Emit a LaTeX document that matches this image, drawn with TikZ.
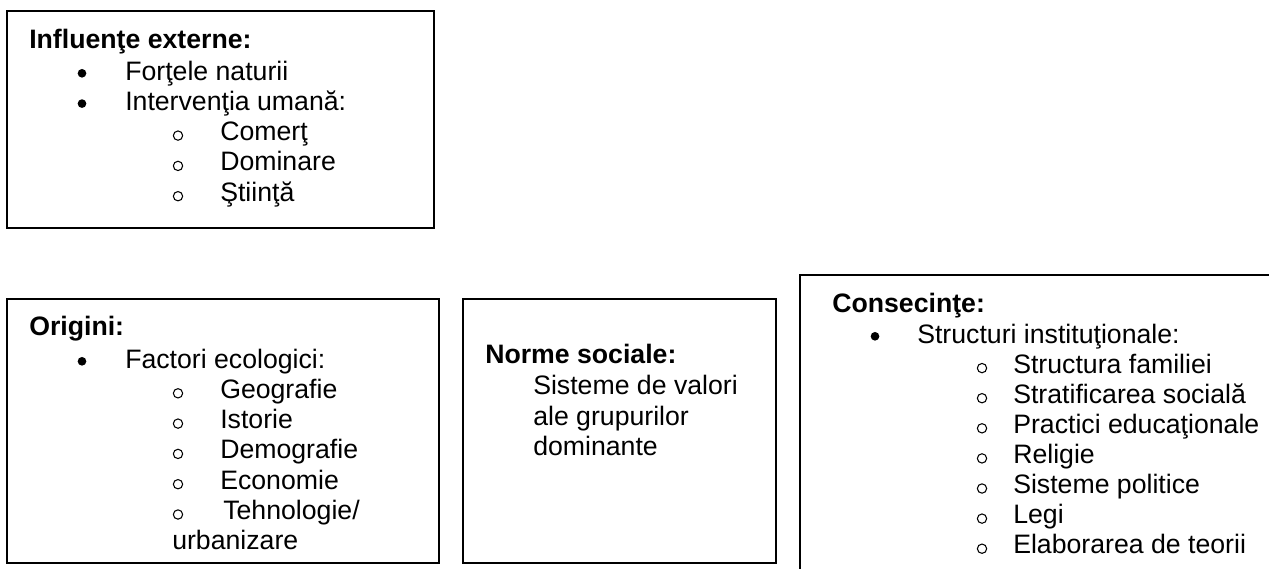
\documentclass[tikz,border=0pt]{standalone}
\usepackage{fontspec}
\setmainfont{Liberation Sans}
\usepackage{tikz}
\usetikzlibrary{fit}

\begin{document}
\begin{tikzpicture}[x=0.75pt,y=-0.75pt]
        \tikzstyle{frame} = [draw,line width=1.4pt,inner sep=0pt]
        \tikzstyle{txt} = [anchor=base west,inner sep=0pt,font=\fontsize{20}{24}\selectfont]
        \tikzstyle{head} = [txt,font=\fontsize{20}{24}\selectfont\bfseries]
        \tikzstyle{dot} = [circle,fill=black,inner sep=0pt,minimum size=6.5pt]
        \tikzstyle{ring} = [circle,draw,line width=0.8pt,inner sep=0pt,minimum size=7pt]
        \useasboundingbox (0,0) rectangle (1269,568);
        \clip (0,0) rectangle (1269,568);
        % the four frames
        \node[frame,fit={(7,11) (434,228)}] (ext) {};
        \node[frame,fit={(7,299) (439,563)}] (ori) {};
        \node[frame,fit={(463,299) (776,563)}] (norm) {};
        \node[frame,fit={(800,275) (1300,600)}] (cons) {};
        % influente externe
        \node[head] (ext-h) at (29,48) {Influenţe externe:};
        \foreach \t [count=\i] in {Forţele naturii, Intervenţia umană:}{
          \node[txt] (ext-\i) at (125,{80+30.3*(\i-1)}) {\t};
          \node[dot] (ext-b\i) at (82,{73.3+30.3*(\i-1)}) {};
        }
        \foreach \t [count=\i] in {Comerţ, Dominare, Ştiinţă}{
          \node[txt] (ext-s\i) at (220,{110.3+30.3*\i}) {\t};
          \node[ring] (ext-r\i) at (178,{105.3+30.3*\i}) {};
        }
        % origini
        \node[head] (ori-h) at (29,335) {Origini:};
        \node[dot] (ori-b) at (82,361.3) {};
        \node[txt] (ori-1) at (125,368) {Factori ecologici:};
        \foreach \t [count=\i] in {Geografie, Istorie, Demografie, Economie}{
          \node[txt] (ori-s\i) at (220,{368+30.3*\i}) {\t};
          \node[ring] (ori-r\i) at (178,{363+30.3*\i}) {};
        }
        \node[ring] (ori-r5) at (178,{363+30.3*5}) {};
        \node[txt] (ori-s5) at (223,{368+30.3*5}) {Tehnologie/};
        \node[txt] (ori-s6) at (172,{368+30.3*6}) {urbanizare};
        % norme sociale
        \node[head] (norm-h) at (485,363) {Norme sociale:};
        \foreach \t [count=\i] in {Sisteme de valori, ale grupurilor, dominante}{
          \node[txt] (norm-\i) at (533,{364.5+30.3*\i}) {\t};
        }
        % consecinte
        \node[head] (cons-h) at (832,312) {Consecinţe:};
        \node[dot] (cons-b) at (875,336.3) {};
        \node[txt] (cons-1) at (917,343) {Structuri instituţionale:};
        \foreach \t [count=\i] in {Structura familiei, Stratificarea socială, Practici educaţionale, Religie, Sisteme politice, Legi, Elaborarea de teorii}{
          \node[txt] (cons-s\i) at (1013,{343+30.1*\i}) {\t};
          \node[ring] (cons-r\i) at (982,{338+30.1*\i}) {};
        }
      \end{tikzpicture}
\end{document}
